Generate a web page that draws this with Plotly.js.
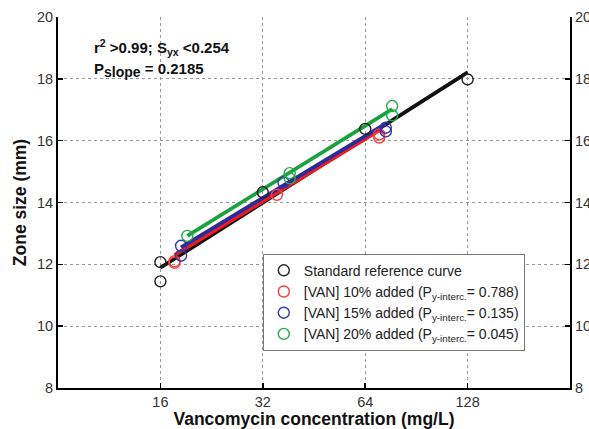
<!DOCTYPE html>
<html>
<head>
<meta charset="utf-8">
<script src="https://cdn.plot.ly/plotly-3.0.1.min.js"></script>
<style>html,body{margin:0;padding:0;background:#fff;}#chart{width:589px;height:429px;}</style>
</head>
<body>
<div id="chart"></div>
<script>
// Tick labels
const xTicks = [16, 32, 64, 128];
const xTickText = ["16", "32", "64", "128"];

// Standard reference curve (black)
const stdX = [16, 16, 32, 64, 128];
const stdY = [12.07, 11.45, 14.33, 16.38, 17.98];
const stdFitX = [16, 128];
const stdFitY = [11.89, 18.21];

// [VAN] 10% added (red)
const van10X = [17.6, 17.6, 35.2, 70.4, 70.4];
const van10Y = [12.1, 12.05, 14.25, 16.2, 16.1];
const van10FitX = [17.6, 70.4];
const van10FitY = [12.3, 16.33];

// [VAN] 15% added (blue)
const van15X = [18.4, 18.4, 36.8, 73.6, 73.6];
const van15Y = [12.6, 12.28, 14.65, 16.42, 16.3];
const van15FitX = [18.4, 73.6];
const van15FitY = [12.55, 16.55];

// [VAN] 20% added (green)
const van20X = [19.2, 38.4, 38.4, 76.8, 76.8];
const van20Y = [12.92, 14.95, 14.78, 17.12, 16.82];
const van20FitX = [19.2, 76.8];
const van20FitY = [12.92, 17.02];

const names = [
  "Standard reference curve",
  "[VAN] 10% added (P<sub>y-interc.</sub>= 0.788)",
  "[VAN] 15% added (P<sub>y-interc.</sub>= 0.135)",
  "[VAN] 20% added (P<sub>y-interc.</sub>= 0.045)"
];

const lineCols = ["#111111", "#ee1c1c", "#2b2b9c", "#17a43c"];
const markCols = ["#222222", "#ff3b3b", "#3434a8", "#22ab4a"];

const fits = [[stdFitX, stdFitY], [van10FitX, van10FitY], [van15FitX, van15FitY], [van20FitX, van20FitY]];
const pts = [[stdX, stdY], [van10X, van10Y], [van15X, van15Y], [van20X, van20Y]];

const FONT = "Liberation Sans, Arial, sans-serif";

const traces = [];
fits.forEach((f, i) => {
  traces.push({x: f[0], y: f[1], type: "scatter", mode: "lines", showlegend: false,
    line: {color: lineCols[i], width: 3.8}, hoverinfo: "skip"});
});
pts.forEach((p, i) => {
  traces.push({x: p[0], y: p[1], type: "scatter", mode: "markers", name: names[i],
    marker: {symbol: "circle-open", size: 11, color: markCols[i], line: {width: 1.4, color: markCols[i]}}});
});
// invisible trace for right axis
traces.push({x: [16], y: [8], yaxis: "y2", mode: "markers", showlegend: false,
  marker: {opacity: 0}, hoverinfo: "skip"});

const tickFont = {family: FONT, size: 14.5, color: "#333"};

const layout = {
  width: 589, height: 429,
  margin: {l: 58, r: 19, t: 17, b: 41},
  paper_bgcolor: "#fff", plot_bgcolor: "#fff",
  showlegend: true,
  legend: {
    x: 0.40, y: 0.362, xanchor: "left", yanchor: "top",
    bgcolor: "#fff", bordercolor: "#777", borderwidth: 1,
    font: {family: FONT, size: 14, color: "#222"},
    tracegroupgap: 0, itemwidth: 30
  },
  xaxis: {
    type: "log", range: [Math.log10(8), Math.log10(256)],
    tickvals: xTicks, ticktext: xTickText,
    ticks: "inside", ticklen: 5, tickwidth: 1.5, tickcolor: "#000",
    showline: true, linewidth: 2, linecolor: "#000",
    showgrid: true, gridcolor: "#999", griddash: "dot", gridwidth: 1,
    zeroline: false, tickfont: tickFont,
    title: {text: "<b>Vancomycin concentration (mg/L)</b>", font: {family: FONT, size: 17.5, color: "#111"}, standoff: 4}
  },
  yaxis: {
    range: [8, 20], dtick: 2, tick0: 8,
    ticks: "inside", ticklen: 5, tickwidth: 1.5, tickcolor: "#000",
    showline: true, linewidth: 2, linecolor: "#000",
    showgrid: true, gridcolor: "#999", griddash: "dot", gridwidth: 1,
    zeroline: false, tickfont: tickFont,
    title: {text: "<b>Zone size (mm)</b>", font: {family: FONT, size: 17.5, color: "#111"}, standoff: 6}
  },
  yaxis2: {
    overlaying: "y", side: "right", range: [8, 20], dtick: 2, tick0: 8,
    ticks: "inside", ticklen: 5, tickwidth: 1.5, tickcolor: "#000",
    showline: true, linewidth: 2, linecolor: "#000",
    showgrid: false, zeroline: false, tickfont: tickFont
  },
  annotations: [
    {xref: "paper", yref: "paper", x: 0.066, y: 0.918, xanchor: "left", yanchor: "middle", showarrow: false,
     text: "<b>r<sup>2</sup> &gt;0.99; S<sub>yx</sub> &lt;0.254</b>",
     font: {family: FONT, size: 15, color: "#111"}},
    {xref: "paper", yref: "paper", x: 0.066, y: 0.857, xanchor: "left", yanchor: "middle", showarrow: false,
     text: "<b>P<sub><span style=\"font-size:14px\">slope</span></sub> = 0.2185</b>",
     font: {family: FONT, size: 15, color: "#111"}}
  ]
};

Plotly.newPlot("chart", traces, layout, {staticPlot: true, displayModeBar: false});
</script>
</body>
</html>
